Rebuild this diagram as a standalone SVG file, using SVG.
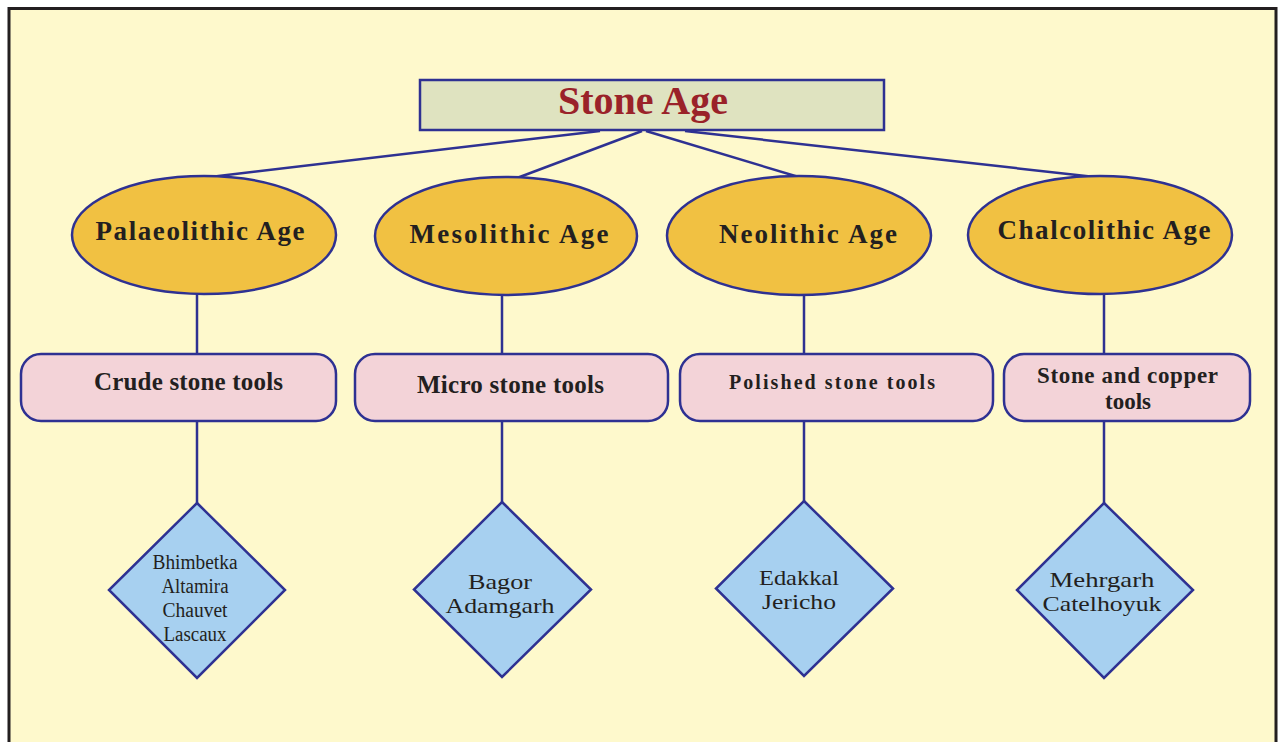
<svg xmlns="http://www.w3.org/2000/svg" width="1279" height="742" viewBox="0 0 1279 742">
<style>
.conn{stroke:#2e3192;stroke-width:2.5;fill:none}
.ell{fill:#f1c142;stroke:#2e3192;stroke-width:2.5}
.box{fill:#f3d3d8;stroke:#2e3192;stroke-width:2.5}
.dia{fill:#a7d0f0;stroke:#2e3192;stroke-width:2.5}
.bt{font-family:"Liberation Serif","Times New Roman",serif;font-weight:bold;fill:#231f20;text-anchor:middle}
.rt{font-family:"Liberation Serif","Times New Roman",serif;fill:#231f20;text-anchor:middle;font-size:22px}
.ct{font-family:"Liberation Serif","Times New Roman",serif;fill:#231f20;text-anchor:middle;font-size:20px}
</style>
<rect x="0" y="0" width="1279" height="742" fill="#ffffff"/>
<rect x="9" y="8.5" width="1267" height="800" fill="#fef9cc" stroke="#231f20" stroke-width="3"/>
<g id="connectors">
<line class="conn" x1="600" y1="131" x2="210" y2="177"/>
<line class="conn" x1="642" y1="131" x2="517" y2="178"/>
<line class="conn" x1="646" y1="131" x2="802" y2="178"/>
<line class="conn" x1="685" y1="131" x2="1095" y2="177"/>
<line class="conn" x1="197" y1="295" x2="197" y2="354"/>
<line class="conn" x1="197" y1="421" x2="197" y2="503"/>
<line class="conn" x1="502" y1="295" x2="502" y2="354"/>
<line class="conn" x1="502" y1="421" x2="502" y2="502"/>
<line class="conn" x1="804" y1="295" x2="804" y2="354"/>
<line class="conn" x1="804" y1="421" x2="804" y2="501"/>
<line class="conn" x1="1104" y1="295" x2="1104" y2="354"/>
<line class="conn" x1="1104" y1="421" x2="1104" y2="503"/>
</g>
<g id="stone-age">
<rect x="420" y="80" width="464" height="50" fill="#dfe3c0" stroke="#2e3192" stroke-width="2.5"/>
<text x="643" y="114" font-family="Liberation Serif,'Times New Roman',serif" font-weight="bold" font-size="40" fill="#9a2229" text-anchor="middle">Stone Age</text>
</g>
<g id="palaeolithic">
<ellipse class="ell" cx="204" cy="235" rx="132" ry="59"/>
<text class="bt" x="200" y="240" font-size="27" textLength="209">Palaeolithic Age</text>
</g>
<g id="mesolithic">
<ellipse class="ell" cx="506" cy="236" rx="131" ry="59"/>
<text class="bt" x="509" y="243" font-size="27" textLength="199">Mesolithic Age</text>
</g>
<g id="neolithic">
<ellipse class="ell" cx="799" cy="235.5" rx="132" ry="59.5"/>
<text class="bt" x="808" y="243" font-size="27" textLength="178">Neolithic Age</text>
</g>
<g id="chalcolithic">
<ellipse class="ell" cx="1100" cy="235" rx="132" ry="59"/>
<text class="bt" x="1104" y="239" font-size="27" textLength="213">Chalcolithic Age</text>
</g>
<g id="crude">
<rect class="box" x="21" y="354" width="315" height="67" rx="20"/>
<text class="bt" x="188.5" y="390" font-size="25" textLength="189">Crude stone tools</text>
</g>
<g id="micro">
<rect class="box" x="355" y="354" width="313" height="67" rx="20"/>
<text class="bt" x="510.5" y="393" font-size="25" textLength="187">Micro stone tools</text>
</g>
<g id="polished">
<rect class="box" x="680" y="354" width="313" height="67" rx="20"/>
<text class="bt" x="832" y="389" font-size="20" textLength="206">Polished stone tools</text>
</g>
<g id="copper">
<rect class="box" x="1004" y="354" width="246" height="67" rx="20"/>
<text class="bt" x="1127.5" y="383" font-size="23" textLength="181">Stone and copper</text>
<text class="bt" x="1128" y="409" font-size="23">tools</text>
</g>
<g id="sites-palaeolithic">
<polygon class="dia" points="197,503 285,590 197,678 109,590"/>
<text class="ct" x="195" y="569" textLength="85" lengthAdjust="spacingAndGlyphs">Bhimbetka</text>
<text class="ct" x="195" y="593" textLength="67" lengthAdjust="spacingAndGlyphs">Altamira</text>
<text class="ct" x="195" y="617" textLength="65" lengthAdjust="spacingAndGlyphs">Chauvet</text>
<text class="ct" x="195" y="641" textLength="63" lengthAdjust="spacingAndGlyphs">Lascaux</text>
</g>
<g id="sites-mesolithic">
<polygon class="dia" points="502,502 591,589.5 502,677 414,589.5"/>
<text class="rt" x="500" y="589" textLength="64" lengthAdjust="spacingAndGlyphs">Bagor</text>
<text class="rt" x="500" y="613" textLength="109" lengthAdjust="spacingAndGlyphs">Adamgarh</text>
</g>
<g id="sites-neolithic">
<polygon class="dia" points="804,501 893,588.5 804,676 716,588.5"/>
<text class="rt" x="799" y="585" textLength="80" lengthAdjust="spacingAndGlyphs">Edakkal</text>
<text class="rt" x="799" y="609" textLength="74" lengthAdjust="spacingAndGlyphs">Jericho</text>
</g>
<g id="sites-chalcolithic">
<polygon class="dia" points="1104,503 1193,590 1104,678 1017,590"/>
<text class="rt" x="1102" y="587" textLength="105" lengthAdjust="spacingAndGlyphs">Mehrgarh</text>
<text class="rt" x="1102" y="611" textLength="119" lengthAdjust="spacingAndGlyphs">Catelhoyuk</text>
</g>
</svg>
